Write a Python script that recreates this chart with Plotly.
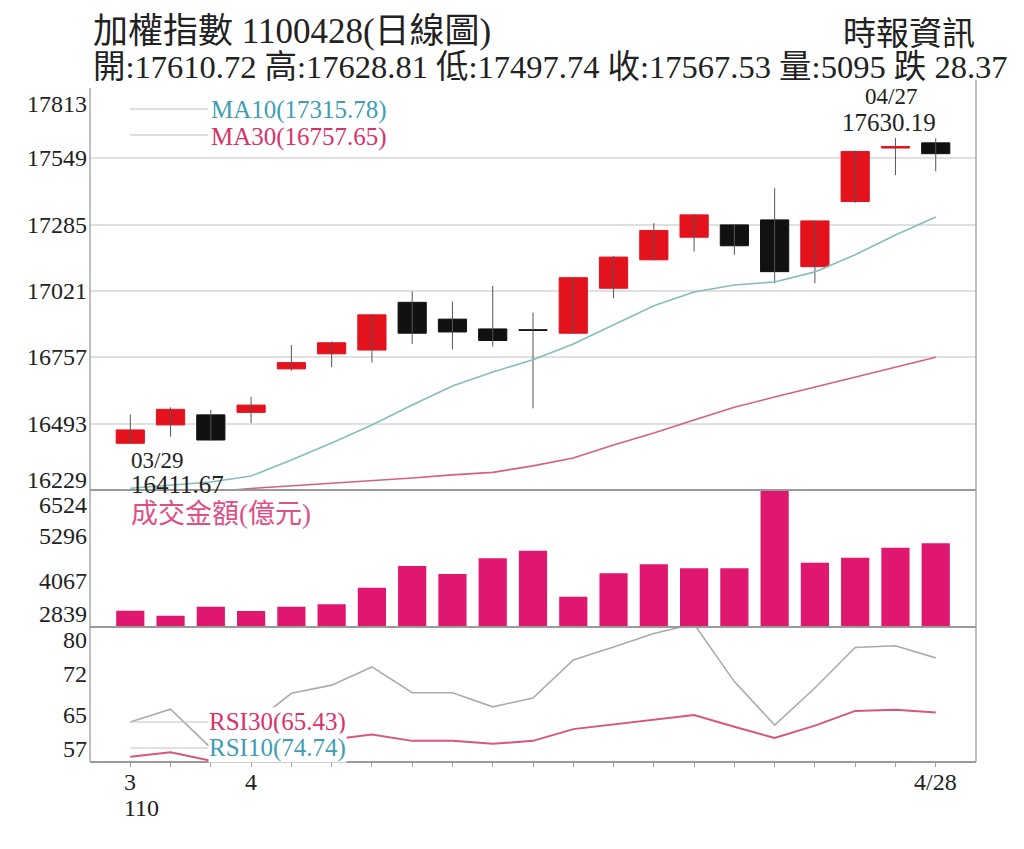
import plotly.graph_objects as go

# ---- data -------------------------------------------------------------
dates = ["03/29", "03/30", "03/31", "04/01", "04/06", "04/07", "04/08",
         "04/09", "04/12", "04/13", "04/14", "04/15", "04/16", "04/19",
         "04/20", "04/21", "04/22", "04/23", "04/26", "04/27", "04/28"]

open_ = [16415, 16488, 16528, 16538, 16711, 16771, 16786, 16976, 16909, 16870,
         16867, 16853, 17032, 17145, 17235, 17284, 17304, 17118, 17377, 17590,
         17610.72]
high = [16530, 16558, 16548, 16600, 16806, 16820, 16930, 17019, 16979, 17041,
        16935, 17078, 17160, 17291, 17328, 17288, 17430, 17302, 17580, 17630.19,
        17628.81]
low = [16411.67, 16441, 16425, 16495, 16703, 16718, 16736, 16810, 16789, 16800,
       16554, 16850, 16992, 17143, 17178, 17165, 17052, 17052, 17372, 17482,
       17497.74]
close = [16468, 16550, 16428, 16567, 16736, 16815, 16926, 16853, 16858, 16824,
         16864, 17074, 17156, 17262, 17324, 17201, 17098, 17300, 17576, 17595.90,
         17567.53]

ma10 = [16236, 16248, 16261, 16285, 16348, 16416, 16488, 16567, 16643, 16699,
        16747, 16810, 16886, 16962, 17017, 17045, 17057, 17097, 17165, 17244,
        17315.78]
ma30 = [16200, 16210, 16222, 16235, 16245, 16255, 16265, 16277, 16289, 16299,
        16325, 16356, 16408, 16456, 16508, 16558, 16599, 16639, 16679, 16719,
        16757.65]

turnover = [3277, 3143, 3385, 3269, 3385, 3450, 3896, 4480, 4264, 4687, 4891,
            3654, 4283, 4525, 4418, 4418, 6524, 4568, 4703, 4972, 5095]

rsi10 = [63.8, 66.0, 59.4, 63.3, 68.7, 70.1, 73.2, 68.8, 68.8, 66.4, 67.9,
         74.4, 76.6, 78.9, 80.5, 70.7, 63.3, 69.6, 76.5, 76.8, 74.74]
rsi30 = [57.9, 58.65, 57.2, 59.0, 60.0, 60.8, 61.7, 60.6, 60.6, 60.1, 60.6,
         62.6, 63.4, 64.3, 65.0, 63.0, 61.1, 63.2, 65.7, 65.9, 65.43]

price_ticks = [17813, 17549, 17285, 17021, 16757, 16493, 16229]
vol_ticks = [6524, 5296, 4067, 2839]
rsi_ticks = [80, 72, 65, 57]

# x-axis labels: (candle index, text)
x_labels = [(0, "3"), (3, "4"), (20, "4/28")]

# ---- layout helpers ---------------------------------------------------
W, H = 1024, 849
def px(x):
    return x / W
def py(y):
    return 1 - y / H

SERIF = "Liberation Serif, 'Noto Sans CJK TC'"
INK = "#222222"
RED = "#E3121D"
BLACK = "#111111"
TEAL = "#3F9DB6"
PINK = "#D8326C"

idx = list(range(len(dates)))

fig = go.Figure()

# candle wicks
wx, wy = [], []
for i in idx:
    wx += [i, i, None]
    wy += [low[i], high[i], None]
fig.add_trace(go.Scatter(x=wx, y=wy, mode="lines", yaxis="y",
                         line=dict(color="#555555", width=1), hoverinfo="skip"))

# moving averages
fig.add_trace(go.Scatter(x=idx, y=ma10, mode="lines", yaxis="y",
                         line=dict(color="#86BDBA", width=1.6)))
fig.add_trace(go.Scatter(x=idx, y=ma30, mode="lines", yaxis="y",
                         line=dict(color="#D5607F", width=1.6)))

# candle bodies
body_base = [min(o, c) for o, c in zip(open_, close)]
body_h = [max(abs(c - o), 3) for o, c in zip(open_, close)]
body_col = [RED if c > o else BLACK for o, c in zip(open_, close)]
fig.add_trace(go.Bar(x=idx, y=body_h, base=body_base, yaxis="y", width=0.7,
                     marker=dict(color=body_col, line=dict(color=body_col, width=1))))

# turnover
fig.add_trace(go.Bar(x=idx, y=turnover, yaxis="y2", width=0.7,
                     marker=dict(color="#E0176F", line=dict(width=0))))

# RSI
fig.add_trace(go.Scatter(x=idx, y=rsi10, mode="lines", yaxis="y3",
                         line=dict(color="#ABABAB", width=1.6)))
fig.add_trace(go.Scatter(x=idx, y=rsi30, mode="lines", yaxis="y3",
                         line=dict(color="#D9557D", width=2)))

ann = []
def text(x, y, s, size, color=INK, xanchor="left", yanchor="middle", **kw):
    d = dict(x=x, y=y, text=s, showarrow=False, xanchor=xanchor, yanchor=yanchor,
             font=dict(family=SERIF, size=size, color=color), borderpad=0)
    d.setdefault("xref", "paper")
    d.setdefault("yref", "paper")
    d.update(kw)
    ann.append(d)

# headings
text(px(92), py(31), "加權指數 1100428(日線圖)", 35)
text(px(92), py(67), "開:17610.72 高:17628.81 低:17497.74 收:17567.53 量:5095 跌 28.37", 32.5)
text(px(976), py(34), "時報資訊", 33, xanchor="right")

# y-axis labels
def ylabels(ticks, yref, first_shift, last_shift):
    for k, v in enumerate(ticks):
        shift = first_shift if k == 0 else (last_shift if k == len(ticks) - 1 else 0)
        text(px(88), v, f"{v}", 24, xanchor="right", yref=yref, yshift=shift)

ylabels(price_ticks, "y", -12, 10)
ylabels(vol_ticks, "y2", -15, 13)
ylabels(rsi_ticks, "y3", -13, 13)

# x-axis labels
for i, s in x_labels:
    text(i, py(782), s, 24, xanchor="center", xref="x")
text(px(123), py(808), "110", 24, xanchor="left")

# MA legends
text(px(210), py(110), "MA10(17315.78)", 25, color=TEAL)
text(px(210), py(137), "MA30(16757.65)", 25, color=PINK)
# turnover legend
text(px(130), py(514), "成交金額(億元)", 27, color="#DE4F86")
# RSI legends
text(px(208), py(722), "RSI30(65.43)", 25, color=PINK, bgcolor="white")
text(px(208), py(748), "RSI10(74.74)", 25, color=TEAL, bgcolor="white")

# extremes
text(19, high[19], "04/27", 23, xanchor="center", yanchor="bottom",
     xref="x", yref="y", yshift=28, xshift=-4)
text(19, high[19], f"{high[19]:.2f}", 25, xanchor="center", yanchor="bottom",
     xref="x", yref="y", yshift=1, xshift=-6)
text(0, low[0], dates[0], 23, xanchor="left", yanchor="top",
     xref="x", yref="y", yshift=-3)
text(0, low[0], f"{low[0]:.2f}", 25, xanchor="left", yanchor="top",
     xref="x", yref="y", yshift=-26)

shapes = []
def seg(x0, y0, x1, y1, color, width):
    shapes.append(dict(type="line", xref="paper", yref="paper",
                       x0=px(x0), y0=py(y0), x1=px(x1), y1=py(y1),
                       line=dict(color=color, width=width)))

# legend keys
seg(130, 109, 208, 109, "#BDBDBD", 1.2)
seg(130, 135, 208, 135, "#BDBDBD", 1.2)
seg(130, 722, 208, 722, "#C4C4C4", 1.2)
seg(130, 748, 208, 748, "#C4C4C4", 1.2)

# frame and panel separators
seg(90, 88, 90, 762, "#A8A8A8", 1.5)
seg(976, 80, 976, 762, "#A8A8A8", 1.5)
seg(90, 490, 976, 490, "#9A9A9A", 2)
seg(90, 627, 976, 627, "#9A9A9A", 2)
seg(90, 762, 976, 762, "#9A9A9A", 2)

fig.update_layout(
    width=W, height=H,
    margin=dict(l=0, r=0, t=0, b=0),
    paper_bgcolor="white", plot_bgcolor="white",
    showlegend=False,
    barmode="overlay",
    xaxis=dict(domain=[px(90), px(976)], range=[-1, 21], anchor="y3",
               showgrid=False, zeroline=False, showline=False,
               tickvals=idx, showticklabels=False, ticks="outside", ticklen=4,
               tickcolor="#A0A0A0", tickwidth=1),
    yaxis=dict(domain=[py(490), py(92)], range=[16229, 17813], anchor="x",
               tickvals=price_ticks[1:-1], showticklabels=False,
               showgrid=True, gridcolor="#E0E0E0", gridwidth=2,
               zeroline=False, showline=False),
    yaxis2=dict(domain=[py(627), py(490)], range=[2839, 6524], anchor="x",
                showticklabels=False, showgrid=False, zeroline=False, showline=False),
    yaxis3=dict(domain=[py(762), py(627)], range=[57, 80], anchor="x",
                showticklabels=False, showgrid=False, zeroline=False, showline=False),
    annotations=ann,
    shapes=shapes,
)

fig.write_html("out.html")
